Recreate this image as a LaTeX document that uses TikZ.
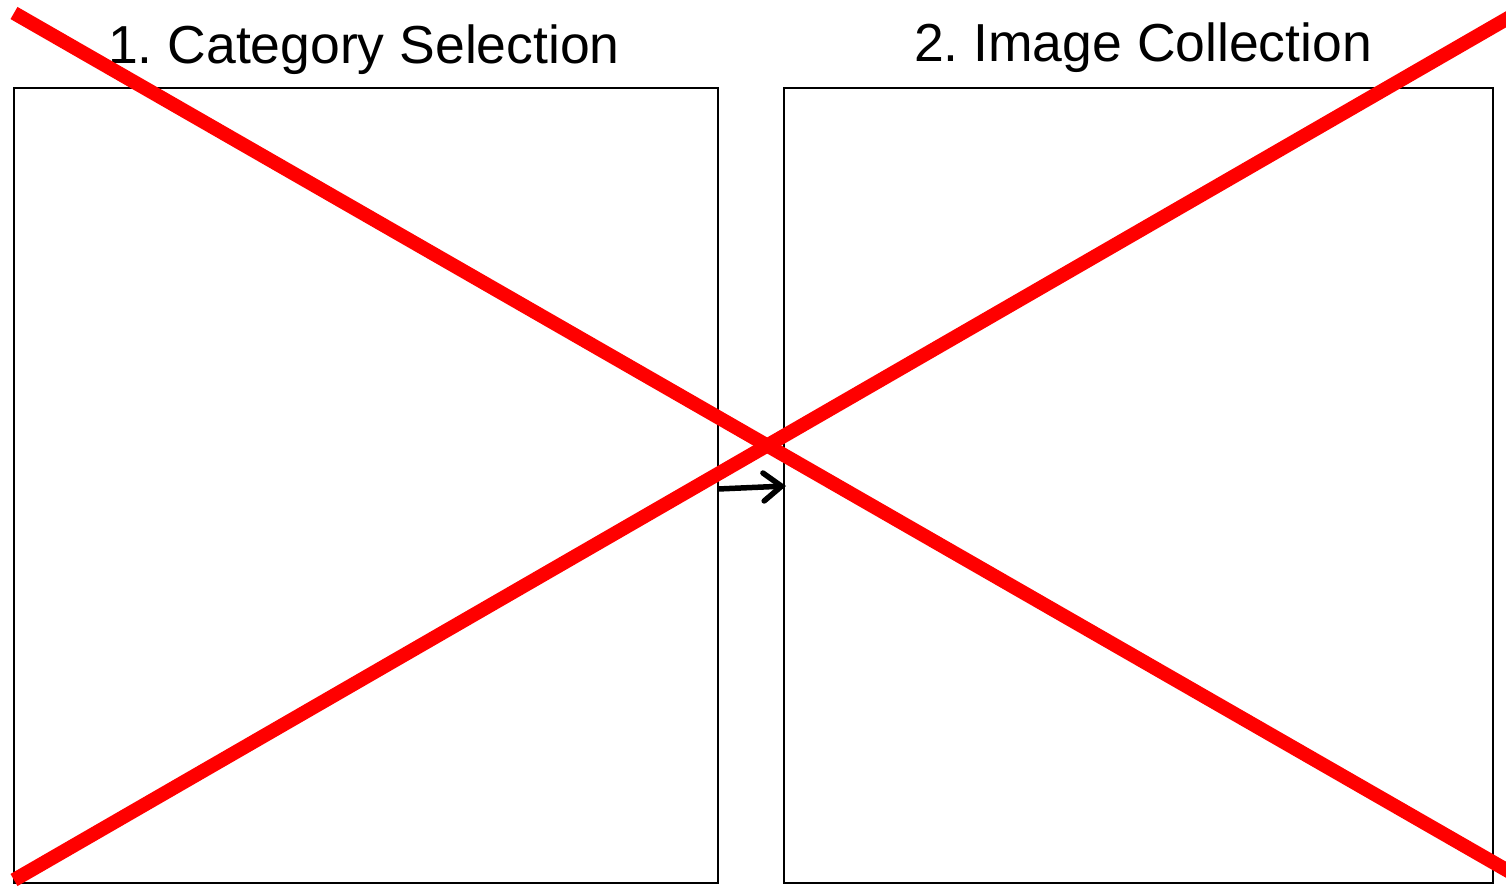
\documentclass[tikz,border=0pt]{standalone}
\usepackage{fontspec}
\setmainfont{Liberation Sans}
\usetikzlibrary{arrows.meta}
\begin{document}
\frenchspacing
\begin{tikzpicture}[x=1pt,y=-1pt,
  panel/.style={draw=black,line width=2pt},
  title/.style={font=\fontsize{53.5}{60}\selectfont,anchor=base},
  cross/.style={draw=red,line width=14pt},
  flow/.style={draw=black,line width=5.5pt,-{Straight Barb[length=18pt,width=28pt,line width=5.5pt,line cap=round]}}]
\useasboundingbox (0,0) rectangle (1506,886);
\draw[panel] (14,88) rectangle (718,883);
\draw[panel] (784,88) rectangle (1493,883);
\coordinate (p1r) at (718,489);
\coordinate (p2l) at (786,486);
\node[title] (t1) at (364,63) {1. Category Selection};
\node[title] (t2) at (1143,61) {2. Image Collection};
\draw[flow] (p1r) -- (p2l);
\coordinate (c1a) at (14,13);
\coordinate (c1b) at (1510,872);
\coordinate (c2a) at (14,880);
\coordinate (c2b) at (1510,17);
\draw[cross] (c1a) -- (c1b);
\draw[cross] (c2a) -- (c2b);
\end{tikzpicture}
\end{document}
